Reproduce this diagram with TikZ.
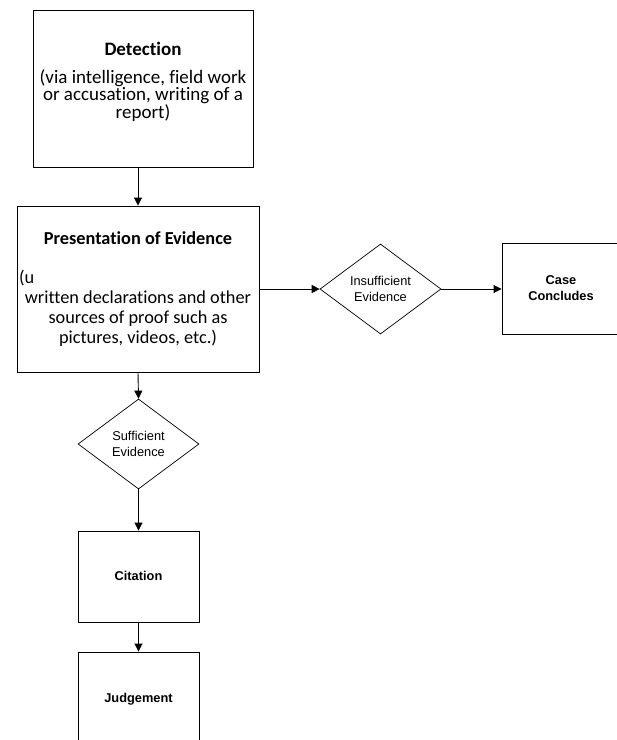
\documentclass[tikz,border=0pt]{standalone}
\usepackage{fontspec}
\setmainfont{Carlito}[Ligatures=NoCommon]
\newfontfamily\arialf{Liberation Sans}
\usetikzlibrary{arrows.meta,shapes.geometric}
\tikzset{
  box/.style={draw=black, line width=0.9pt, rectangle, inner sep=0pt},
  dia/.style={draw=black, line width=0.7pt, diamond, inner sep=0pt, minimum width=121pt, minimum height=90pt},
  arr/.style={draw=black, line width=0.9pt, -{Triangle[length=8pt,width=8pt]}},
  cal/.style={font=\fontsize{19}{17.5}\selectfont, align=center, inner sep=0pt},
  calp/.style={font=\fontsize{18.3}{20}\selectfont, align=center, inner sep=0pt},
  ari/.style={font=\arialf\fontsize{12.8}{16}\selectfont, align=center, inner sep=0pt},
  arib/.style={font=\arialf\bfseries\fontsize{12.8}{16}\selectfont, align=center, inner sep=0pt}
}
\begin{document}
\begin{tikzpicture}[x=1pt,y=-1pt]
\useasboundingbox (0,0) rectangle (617,740);
\clip (0,0) rectangle (617,740);
% boxes
\node[box, minimum width=220pt, minimum height=157pt] (det) at (143,88.5) {};
\node[box, minimum width=242pt, minimum height=166pt] (pres) at (138,289) {};
\node[dia] (ins) at (380.5,289) {};
\node[box, minimum width=128pt, minimum height=91pt] (case) at (566,288.5) {};
\node[dia] (suf) at (138.5,444) {};
\node[box, minimum width=121pt, minimum height=91pt] (cit) at (138.5,576.5) {};
\node[box, minimum width=121pt, minimum height=110pt] (jud) at (138.5,707) {};
% texts (anchor base = baseline of the last line)
\node[cal, anchor=base] (dett) at (143,55) {\bfseries Detection};
\node[cal, anchor=base] (detb) at (143,118) {(via intelligence, field work\\or accusation, writing of a\\report)};
\node[calp, anchor=base] (prest) at (138,244) {\bfseries Presentation of Evidence};
\node[calp, anchor=base west] (presu) at (19,283) {(u};
\node[calp, anchor=base] (presb) at (138,343) {written declarations and other\\sources of proof such as\\pictures, videos, etc.)};
\node[ari] (inst) at (ins.center) {Insufficient\\Evidence};
\node[arib] (caset) at (561,288.5) {Case\\Concludes};
\node[ari] (suft) at (suf.center) {Sufficient\\Evidence};
\node[arib, anchor=base] (citt) at (138.5,580) {Citation};
\node[arib, anchor=base] (judt) at (138.5,702) {Judgement};
% connectors
\draw[arr] (pres.north |- det.south) -- (pres.north);
\draw[arr] (pres.east) -- (ins.west);
\draw[arr] (ins.east) -- (ins.east -| case.west);
\draw[arr] (pres.south) -- (suf.north);
\draw[arr] (suf.south) -- (cit.north);
\draw[arr] (cit.south) -- (jud.north);
\end{tikzpicture}
\end{document}
